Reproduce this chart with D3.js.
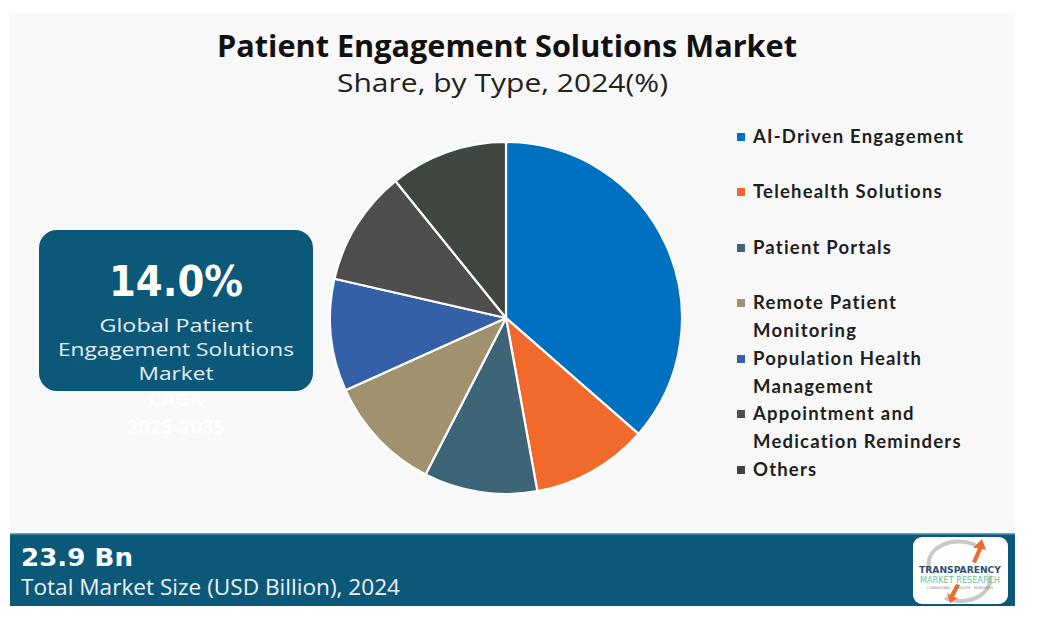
<!DOCTYPE html>
<html>
<head>
<meta charset="utf-8">
<script src="https://cdn.jsdelivr.net/npm/d3@7"></script>
<style>
  html, body { margin: 0; padding: 0; background: #ffffff; }
  svg { display: block; }
</style>
</head>
<body>
<svg id="chart" width="1044" height="629"></svg>
<script>
// ---- Data ----
const categories = [
  "AI-Driven Engagement",
  "Telehealth Solutions",
  "Patient Portals",
  "Remote Patient Monitoring",
  "Population Health Management",
  "Appointment and Medication Reminders",
  "Others"
];
const shares = [36.4, 10.7, 10.4, 10.7, 10.3, 10.6, 10.8];
const legendLines = [
  ["AI-Driven Engagement"],
  ["Telehealth Solutions"],
  ["Patient Portals"],
  ["Remote Patient", "Monitoring"],
  ["Population Health", "Management"],
  ["Appointment and", "Medication Reminders"],
  ["Others"]
];
const colors = ["#0070C0", "#F26A2B", "#3E6477", "#A0916F", "#3460A8", "#4E4E4E", "#3E463F"];
const titleText = "Patient Engagement Solutions Market";
const subtitleText = "Share, by Type, 2024(%)";
const cagrValue = "14.0%";
const cagrLines = ["Global Patient", "Engagement Solutions", "Market"];
const cagrHidden = ["CAGR", "2025-2035"];
const marketSize = "23.9 Bn";
const marketLabel = "Total Market Size (USD Billion), 2024";

// ---- Drawing ----
const svg = d3.select("#chart");
const dark = "#0B5878";

// background panel
svg.append("rect").attr("x", 10).attr("y", 13).attr("width", 1005).attr("height", 520).attr("fill", "#F8F8F8");

function fitText(sel, w) {
  sel.attr("textLength", w).attr("lengthAdjust", "spacingAndGlyphs");
}

// title
svg.append("text").attr("x", 217).attr("y", 57)
  .attr("font-family", "Open Sans").attr("font-weight", 700).attr("font-size", 31)
  .attr("fill", "#111").text(titleText).call(fitText, 580);
svg.append("text").attr("x", 337).attr("y", 92)
  .attr("font-family", "Open Sans").attr("font-weight", 400).attr("font-size", 26)
  .attr("fill", "#222").text(subtitleText).call(fitText, 331);

// pie
const cx = 506, cy = 318, R = 176;
const pie = d3.pie().sort(null).value(d => d)(shares);
const arc = d3.arc().innerRadius(0).outerRadius(R);
const g = svg.append("g").attr("transform", `translate(${cx},${cy})`);
g.selectAll("path").data(pie).join("path")
  .attr("d", arc)
  .attr("fill", (d, i) => colors[i])
  .attr("stroke", "#ffffff").attr("stroke-width", 2.2).attr("stroke-linejoin", "round");

// legend
const legendY = [143, 198, 254, 309, 365, 420, 476];
const lg = svg.append("g");
categories.forEach((c, i) => {
  const y0 = legendY[i];
  lg.append("rect").attr("x", 737).attr("y", y0 - 10).attr("width", 8).attr("height", 8).attr("fill", colors[i]);
  legendLines[i].forEach((ln, j) => {
    lg.append("text").attr("x", 753).attr("y", y0 + j * 28)
      .attr("font-family", "Lato").attr("font-weight", 700).attr("font-size", 18.5)
      .attr("letter-spacing", 1.2)
      .attr("fill", "#1e1e1e").text(ln);
  });
});

// CAGR box
svg.append("rect").attr("x", 39).attr("y", 230).attr("width", 274).attr("height", 161)
  .attr("rx", 18).attr("fill", dark);
svg.append("text").attr("x", 176).attr("y", 296).attr("text-anchor", "middle")
  .attr("font-family", "DejaVu Sans").attr("font-weight", 700).attr("font-size", 42)
  .attr("fill", "#ffffff").text(cagrValue).call(fitText, 134);
const cagrW = [153, 236, 75];
cagrLines.forEach((t, i) => {
  svg.append("text").attr("x", 176).attr("y", 332 + i * 24).attr("text-anchor", "middle")
    .attr("font-family", "Open Sans").attr("font-size", 19)
    .attr("fill", "#E6EEF2").text(t).call(fitText, cagrW[i]);
});
cagrHidden.forEach((t, i) => {
  svg.append("text").attr("x", 176).attr("y", 406 + i * 28).attr("text-anchor", "middle")
    .attr("font-family", "Open Sans").attr("font-weight", 700).attr("font-size", 20)
    .attr("fill", "#ffffff").text(t);
});

// bottom bar
svg.append("rect").attr("x", 10).attr("y", 533).attr("width", 1005).attr("height", 73).attr("fill", dark);
svg.append("rect").attr("x", 10).attr("y", 533).attr("width", 1005).attr("height", 1.5).attr("fill", "#5FA7C4");
svg.append("text").attr("x", 21).attr("y", 566)
  .attr("font-family", "DejaVu Sans").attr("font-weight", 700).attr("font-size", 25)
  .attr("fill", "#ffffff").text(marketSize).call(fitText, 112);
svg.append("text").attr("x", 21).attr("y", 595)
  .attr("font-family", "Open Sans").attr("font-size", 21.5)
  .attr("fill", "#EEF3F6").text(marketLabel).call(fitText, 379);

// logo
const logo = svg.append("g");
logo.append("rect").attr("x", 913).attr("y", 537).attr("width", 95).attr("height", 67).attr("rx", 9).attr("fill", "#ffffff");
logo.append("path").attr("d", "M930,570 A30,22 0 0 1 980,548").attr("fill", "none").attr("stroke", "#C8C8C8").attr("stroke-width", 4);
logo.append("path").attr("d", "M990,576 A30,22 0 0 1 945,598").attr("fill", "none").attr("stroke", "#C8C8C8").attr("stroke-width", 4);
logo.append("path").attr("d", "M972,562 L978,548 L973,548 L982,539 L986,550 L982,549 L976,563 Z").attr("fill", "#F26A2B");
logo.append("path").attr("d", "M960,585 L954,597 L958,598 L950,603 L947,593 L950,595 L956,584 Z").attr("fill", "#F26A2B");
logo.append("text").attr("x", 960).attr("y", 573).attr("text-anchor", "middle")
  .attr("font-family", "DejaVu Sans").attr("font-weight", 700).attr("font-size", 9)
  .attr("fill", "#2E4E6E").text("TRANSPARENCY").call(fitText, 82);
logo.append("text").attr("x", 960).attr("y", 583).attr("text-anchor", "middle")
  .attr("font-family", "DejaVu Sans").attr("font-size", 8)
  .attr("fill", "#6BBF9A").text("MARKET RESEARCH").call(fitText, 80);
logo.append("text").attr("x", 960).attr("y", 589).attr("text-anchor", "middle")
  .attr("font-family", "DejaVu Sans").attr("font-size", 3.5)
  .attr("fill", "#777").text("CONSULTING · INSIGHTS · RESEARCH").call(fitText, 66);
</script>
</body>
</html>
